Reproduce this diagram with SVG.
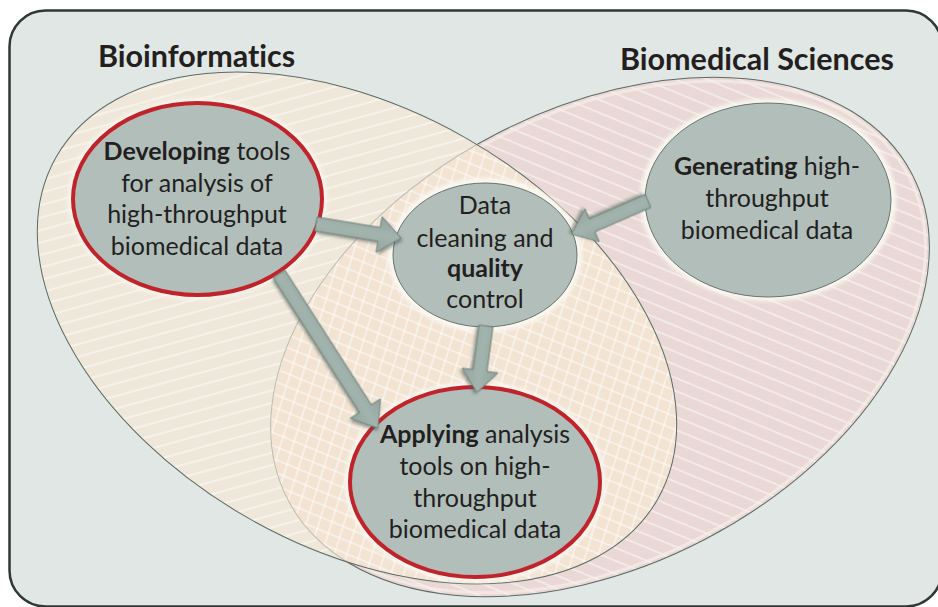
<svg xmlns="http://www.w3.org/2000/svg" width="938" height="607" viewBox="0 0 938 607">
  <defs>
    <style>
      .lbl { font-family: Lato, "Open Sans", "Liberation Sans", sans-serif; font-size: 25px; fill: #231f20; text-anchor: middle; font-variant-ligatures: none; }
      .ttl { font-family: Lato, "Open Sans", "Liberation Sans", sans-serif; font-size: 30.5px; font-weight: 700; fill: #231f20; font-variant-ligatures: none; }
      .b { font-weight: 700; }
      .node { fill: #b2beba; }
      .plain { stroke: #66756f; stroke-width: 1; }
      .key { stroke: #c1232b; stroke-width: 4; }
      .halo { fill: none; stroke: #fbf8f1; stroke-width: 8; filter: url(#soft); }
      .arrow { fill: url(#arrowShade); stroke: #6f827b; stroke-width: 1; filter: url(#shadow); }
    </style>
    <filter id="soft" x="-20%" y="-20%" width="140%" height="140%">
      <feGaussianBlur stdDeviation="2"/>
    </filter>
    <filter id="shadow" x="-30%" y="-30%" width="160%" height="160%">
      <feDropShadow dx="2" dy="2" stdDeviation="1.4" flood-color="#4f5c57" flood-opacity="0.55"/>
    </filter>
    <linearGradient id="arrowShade" x1="0" y1="0" x2="0" y2="1">
      <stop offset="0" stop-color="#8fa29b"/>
      <stop offset="0.5" stop-color="#a3b4ae"/>
      <stop offset="1" stop-color="#92a59e"/>
    </linearGradient>
    <!-- hatching for the two fields -->
    <pattern id="hatchBio" width="12" height="12" patternUnits="userSpaceOnUse" patternTransform="rotate(45)">
      <line x1="6" y1="0" x2="6" y2="12" stroke="#ffffff" stroke-opacity="0.55" stroke-width="1.6"/>
    </pattern>
    <pattern id="hatchMed" width="12" height="12" patternUnits="userSpaceOnUse" patternTransform="rotate(-40)">
      <line x1="6" y1="0" x2="6" y2="12" stroke="#ffffff" stroke-opacity="0.55" stroke-width="1.6"/>
    </pattern>
    <ellipse id="medShape" cx="600" cy="337" rx="352" ry="228" transform="rotate(-27.6 600 337)"/>
    <ellipse id="bioShape" cx="357" cy="328" rx="346" ry="219" transform="rotate(29.6 357 328)"/>
    <clipPath id="bioClip">
      <use href="#bioShape"/>
    </clipPath>
  </defs>

  <!-- panel -->
  <rect x="9.5" y="10.5" width="932.5" height="596" rx="36" fill="#e1e7e4" stroke="#2e3834" stroke-width="2.5"/>

  <g id="field-biomedical">
    <use href="#medShape" fill="#e9d8d5"/>
    <use href="#medShape" fill="url(#hatchMed)"/>
    <ellipse cx="600" cy="337" rx="348" ry="224" transform="rotate(-27.6 600 337)" fill="none" stroke="#f6eeea" stroke-width="3" stroke-opacity="0.7"/>
    <use href="#medShape" fill="none" stroke="#5b6a64" stroke-width="1"/>
  </g>

  <g id="field-bioinformatics">
    <use href="#bioShape" fill="#efe8da"/>
    <use href="#bioShape" fill="url(#hatchBio)"/>
    <!-- overlap of the two fields -->
    <g clip-path="url(#bioClip)">
      <use href="#medShape" fill="#f2e3d3"/>
      <use href="#medShape" fill="url(#hatchBio)"/>
      <use href="#medShape" fill="url(#hatchMed)"/>
      <use href="#medShape" fill="none" stroke="#bdbcb2" stroke-width="1"/>
    </g>
    <use href="#bioShape" fill="none" stroke="#5b6a64" stroke-width="1"/>
  </g>

  <text id="title-bioinformatics" class="ttl" x="98" y="67">Bioinformatics</text>
  <text id="title-biomedical" class="ttl" x="620" y="70">Biomedical Sciences</text>

  <g id="node-developing">
    <ellipse class="halo" cx="197.5" cy="199" rx="125" ry="96"/>
    <ellipse class="node key" cx="197.5" cy="199" rx="124.5" ry="96"/>
    <text class="lbl" x="197" y="160"><tspan class="b">Developing</tspan> tools</text>
    <text class="lbl" x="197" y="192">for analysis of</text>
    <text class="lbl" x="197" y="223">high-throughput</text>
    <text class="lbl" x="197" y="255">biomedical data</text>
  </g>

  <g id="node-cleaning">
    <ellipse class="halo" cx="485" cy="255" rx="93" ry="73"/>
    <ellipse class="node plain" cx="485" cy="255" rx="92" ry="72"/>
    <text class="lbl" x="485" y="214">Data</text>
    <text class="lbl" x="485" y="247">cleaning and</text>
    <text class="lbl b" x="485" y="277">quality</text>
    <text class="lbl" x="485" y="308">control</text>
  </g>

  <g id="node-generating">
    <ellipse class="halo" cx="768" cy="200" rx="124" ry="97"/>
    <ellipse class="node plain" cx="768" cy="200" rx="123" ry="97"/>
    <text class="lbl" x="767" y="175"><tspan class="b">Generating</tspan> high-</text>
    <text class="lbl" x="767" y="207">throughput</text>
    <text class="lbl" x="767" y="239">biomedical data</text>
  </g>

  <g id="node-applying">
    <ellipse class="halo" cx="475" cy="482" rx="126" ry="96"/>
    <ellipse class="node key" cx="475" cy="482" rx="125" ry="95"/>
    <text class="lbl" x="475" y="443"><tspan class="b">Applying</tspan> analysis</text>
    <text class="lbl" x="475" y="475">tools on high-</text>
    <text class="lbl" x="475" y="507">throughput</text>
    <text class="lbl" x="475" y="538">biomedical data</text>
  </g>

  <g id="connectors">
    <!-- developing -> cleaning -->
    <polygon class="arrow" transform="translate(316 224) rotate(9.4)" points="0,-7 64,-7 64,-18 86,0 64,18 64,7 0,7"/>
    <!-- generating -> cleaning -->
    <polygon class="arrow" transform="translate(648 201) rotate(156.5)" points="0,-7 61,-7 61,-18 83,0 61,18 61,7 0,7"/>
    <!-- cleaning -> applying -->
    <polygon class="arrow" transform="translate(486 326) rotate(97.7)" points="0,-7 45,-7 45,-18 67,0 45,18 45,7 0,7"/>
    <!-- developing -> applying -->
    <polygon class="arrow" transform="translate(279 274) rotate(57.3)" points="0,-7 160,-7 160,-18 183,0 160,18 160,7 0,7"/>
  </g>
</svg>
